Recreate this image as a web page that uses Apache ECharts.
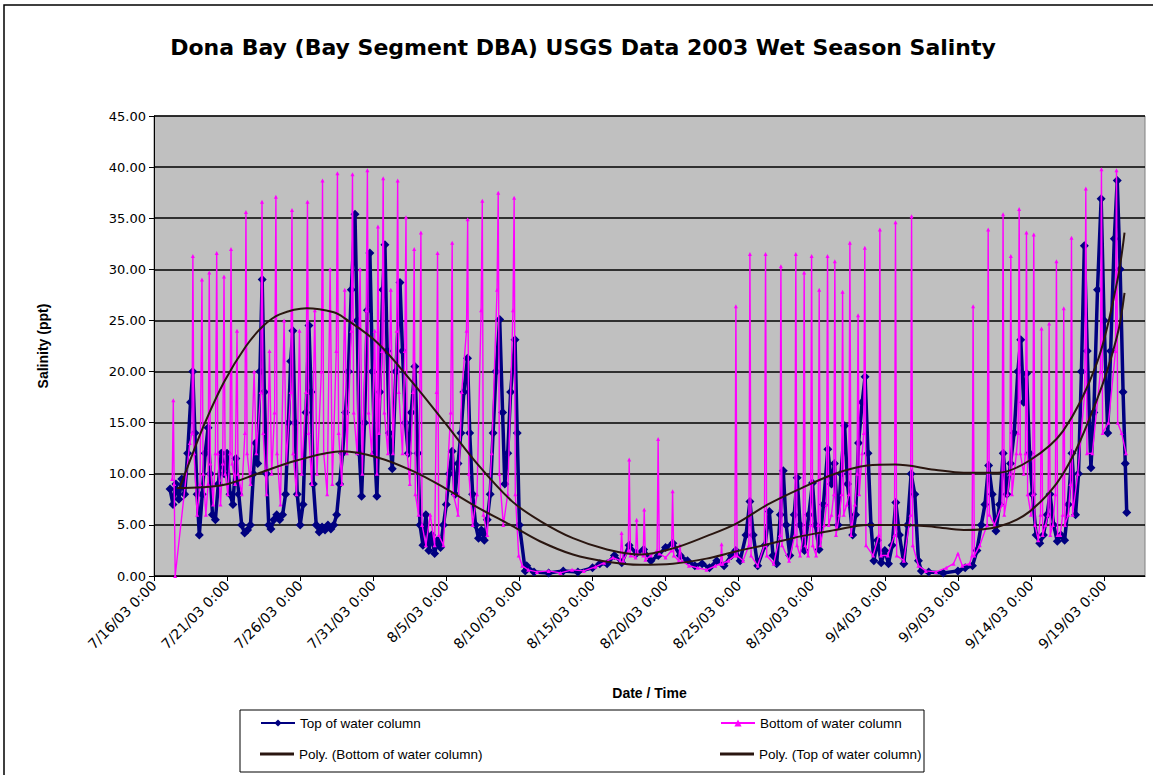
<!DOCTYPE html>
<html>
<head>
<meta charset="utf-8">
<script src="https://cdn.jsdelivr.net/npm/echarts@6/dist/echarts.min.js"></script>
<style>
html,body{margin:0;padding:0;background:#fff;}
#chart{width:1153px;height:775px;}
</style>
</head>
<body>
<div id="chart"></div>
<script>
// x values are days after 7/16/03 0:00
// Top of water column [day, salinity]
const topSeries = [
[1.1,8.5],[1.3,7.0],[1.5,9.0],[1.7,7.5],[1.9,9.5],
[2.1,8],[2.3,12],[2.5,17],[2.65,20],[2.8,14],[2.95,8],[3.1,4],
[3.3,8],[3.5,12],[3.7,14.5],[3.85,10],[4.0,6],[4.2,5.5],
[4.4,9],[4.6,12],[4.8,10],[5.0,12],[5.2,8],[5.4,7],
[5.6,11.5],[5.8,8],[6.0,5],[6.2,4.2],[6.4,4.5],[6.6,5],
[6.8,10],[6.95,13],[7.1,11],[7.25,20],[7.4,29],[7.55,18],
[7.7,10],[7.85,5],[8.0,4.6],[8.2,5.5],[8.4,6],[8.6,5.5],[8.8,6],
[9.0,8],[9.2,15],[9.35,21],[9.5,24],[9.65,15],[9.8,8],
[10.0,5],[10.2,7],[10.4,16],[10.6,24.5],[10.75,18],[10.9,9],
[11.1,5],[11.3,4.3],[11.5,4.8],[11.7,4.5],[11.9,5],[12.1,4.6],[12.3,5.0],
[12.5,6],[12.7,9],[12.9,12],[13.1,16],
[13.3,20],[13.5,28],[13.75,35.4],[13.9,25],[14.05,12],[14.2,7.8],
[14.4,15],[14.6,26],[14.77,31.6],[14.95,20],[15.1,12],[15.25,7.8],
[15.45,18],[15.65,28],[15.8,32.4],[15.95,22],[16.1,14],[16.3,10.5],
[16.55,20],[16.83,28.7],[17.0,22],[17.2,15],[17.4,12],[17.6,16],
[17.85,20.5],[18.05,12],[18.2,5],[18.4,3],[18.6,6],[18.8,2.5],[19.0,4],[19.2,2.2],[19.4,3.5],[19.6,2.8],[19.8,5],
[20.0,7],[20.2,10],[20.4,12.2],[20.6,8],
[20.8,11],[21.0,14],[21.2,18],[21.45,21.3],[21.6,14],[21.8,8],
[22.0,5],[22.2,3.7],[22.4,4.5],[22.6,3.5],[22.8,5.5],[23.0,8],
[23.2,14],[23.4,20],[23.65,25.1],[23.85,16],[24.0,9],
[24.2,12],[24.4,18],[24.7,23.1],[24.85,14],[25.0,5],
[25.4,0.5],[25.5,1.0],[26,0.4],[27,0.3],[28,0.5],[29,0.4],[30,0.8],[30.5,1.2],
[31,1.2],[31.5,2.0],[32,1.3],[32.5,3.0],[33,2.2],[33.5,2.6],[34,1.5],[34.5,2.0],[35,2.8],[35.5,3.2],
[36,2.0],[36.5,1.5],[37,1.0],[37.5,1.2],[38,0.8],[38.5,1.5],[39,1.0],[39.5,2.0],
[39.8,2.5],[40.1,1.5],[40.5,4],[40.77,7.3],[41.0,4],[41.3,1.0],
[41.8,3],[42.1,6.3],[42.35,2],[42.6,1.2],[42.85,6],[43.05,10.3],[43.25,5],[43.5,2],
[43.8,6],[44.0,9.6],[44.2,5],[44.5,2.5],[44.8,6],[45.05,9.1],[45.25,5],[45.5,2.6],
[45.8,7],[46.1,12.4],[46.35,9],[46.55,11],[46.8,5],[47.0,10],[47.25,14.7],[47.45,9],
[47.8,4],[48.0,6],[48.2,13],[48.45,17],[48.65,19.5],[48.85,12],
[49.05,5],[49.25,1.5],[49.5,3.5],[49.75,1.3],[50.0,2.5],[50.25,1.2],
[50.5,3],[50.75,7.2],[51.0,4],[51.3,1.2],[51.55,5],[51.8,10],[52.05,8],[52.3,1.5],[52.5,0.5],
[53,0.4],[54,0.3],[55,0.5],[55.5,0.8],[56,1.0],[56.3,2.5],[56.6,5],
[56.85,7],[57.1,10.8],[57.35,8],[57.6,4.4],[57.85,7],[58.1,12],[58.35,8],[58.6,11],
[58.85,14],[59.1,20],[59.3,23.1],[59.5,17],[59.7,19.8],[59.9,12],[60.1,8],
[60.35,4],[60.6,3.2],[60.85,4],[61.1,6],[61.3,8],[61.55,5],[61.8,3.4],[62.05,4],[62.3,3.5],
[62.55,7],[62.8,12],[63.05,6],[63.25,10],[63.45,20],[63.65,32.3],[63.85,22],
[64.1,10.6],[64.3,16],[64.55,28],[64.8,36.9],[65.0,25],[65.25,14],[65.45,22],
[65.7,33],[65.9,38.7],[66.1,30],[66.3,18],[66.45,11],[66.55,6.2]
];

// Bottom of water column [day, salinity]
const bottomSeries = [
[1.25,9.5],[1.32,17.2],[1.38,9.0],[1.45,0.0],[2.45,13.0],[2.6,14],[2.66,31.3],[2.74,12],[2.95,6],
[3.15,9],[3.28,29.0],[3.36,10],[3.55,6],[3.7,9],[3.78,29.7],[3.86,11],[4.05,7],
[4.2,12],[4.29,31.6],[4.37,12],[4.55,7],[4.7,11],[4.79,29.3],[4.87,10],[5.05,8],
[5.2,12],[5.27,32.0],[5.35,11],[5.55,9],[5.68,24],[5.75,10],[6.0,8],[6.22,14],[6.29,35.6],[6.37,12],
[6.6,9],[6.85,20],[7.0,12],[7.3,18],[7.39,36.6],[7.47,14],[7.7,8],[7.9,22],[8.05,10],
[8.25,16],[8.34,37.1],[8.42,12],[8.65,7],[8.9,25],[9.05,11],[9.35,18],[9.44,35.8],[9.52,12],
[9.75,8],[9.95,24],[10.1,10],[10.4,18],[10.5,36.6],[10.58,14],[10.8,9],[11.0,26],[11.15,10],
[11.45,20],[11.53,38.7],[11.61,12],[11.85,8],[12.05,30],[12.2,9],[12.47,22],[12.55,39.4],[12.63,14],
[12.85,9],[13.05,28],[13.2,12],
[13.5,24],[13.58,39.3],[13.66,16],[13.9,12],[14.1,30],[14.25,10],[14.52,26],[14.6,39.7],[14.68,16],
[14.9,12],[15.1,24],[15.25,10],[15.32,34.2],[15.4,14],[15.6,22],[15.68,38.9],[15.76,16],
[16.0,12],[16.2,28],[16.35,12],[16.6,24],[16.67,38.7],[16.75,18],[17.0,12],[17.16,22],[17.24,35.1],[17.32,12],
[17.5,9],[17.72,18],[17.8,32.0],[17.88,8],[18.1,6],[18.2,20],[18.26,33.6],[18.34,5],[18.6,3],[18.9,6],
[19.2,3],[19.33,18],[19.4,31.6],[19.48,4],[19.8,3],[20.3,16],[20.4,32.6],[20.48,8],[20.8,6],
[21.05,18],[21.38,24],[21.46,34.9],[21.54,10],[21.8,5],[22.1,8],[22.38,26],[22.46,36.7],[22.54,6],
[22.8,4],[23.1,12],[23.47,28],[23.55,37.5],[23.63,10],[23.9,5],[24.2,8],[24.56,26],[24.64,37.0],[24.72,8],
[24.95,2],[25.2,1.0],
[25.6,0.6],[26.2,0.4],[27,0.5],[27.8,0.3],[28.6,0.6],[29.4,0.5],[30.2,0.9],[30.8,1.3],[31.4,1.8],
[31.9,1.5],[31.99,4.2],[32.1,1.5],[32.45,2.5],[32.51,11.4],[32.6,2.0],[32.95,1.8],[33.02,5.5],[33.1,2.2],
[33.47,2.0],[33.54,6.5],[33.62,1.6],[34.0,2.0],[34.42,2.5],[34.49,13.4],[34.57,2.2],[35.0,1.8],
[35.41,2.5],[35.48,8.3],[35.56,2.0],[35.9,1.5],[35.98,3.0],[36.1,1.5],[36.6,1.0],[37.2,0.8],[37.8,0.6],
[38.4,1.0],[38.76,1.2],[38.83,3.1],[38.9,1.2],[39.3,1.5],[39.74,2.0],[39.81,26.4],[39.89,2.0],
[40.3,1.5],[40.7,3],[40.77,31.5],[40.85,2],[41.3,1.0],[41.76,3],[41.84,31.5],[41.92,2],[42.4,1.2],
[42.82,4],[42.89,30.3],[42.97,3],[43.45,1.5],[43.84,4],[43.91,31.5],[43.99,3],[44.2,2],[44.41,4],[44.48,29.7],[44.56,3],
[44.75,2],[44.92,5],[44.99,31.3],[45.07,3],[45.3,2],[45.44,5],[45.51,28.0],[45.59,3],[45.85,5],
[46.01,7],[46.08,31.3],[46.16,5],[46.35,6],[46.51,8],[46.58,30.8],[46.66,4],[46.9,6],[47.04,8],[47.11,27.8],[47.19,6],
[47.4,7],[47.54,8],[47.61,32.6],[47.69,4],[47.95,7],[48.1,10],[48.17,25.5],[48.25,8],[48.45,12],
[48.56,14],[48.63,32.1],[48.71,3],[49.2,2],[49.59,4],[49.66,33.9],[49.74,2],[50.2,2],[50.66,4],[50.73,34.6],[50.81,2],
[51.3,1.5],[51.76,6],[51.83,35.2],[51.91,3],[52.3,1.0],
[52.8,0.5],[53.5,0.4],[54.2,0.8],[54.7,1.2],[55.0,2.2],[55.3,1.0],[55.8,1.2],[55.97,2],[56.04,26.4],[56.12,2],
[56.5,3],[57.0,5],[57.07,33.9],[57.15,6],[57.5,5],[58.02,7],[58.09,35.4],[58.17,6],[58.4,8],[58.55,10],[58.62,31.3],[58.7,8],
[59.0,12],[59.12,14],[59.19,35.9],[59.27,12],[59.5,10],[59.62,12],[59.69,33.6],[59.77,8],[60.0,6],[60.12,8],[60.19,33.4],[60.27,5],
[60.5,3.5],[60.65,6],[60.72,24.2],[60.8,4],[61.0,5],[61.17,6],[61.24,24.7],[61.32,4],[61.5,5],[61.67,8],[61.74,30.8],[61.82,4],
[62.0,4],[62.17,6],[62.24,26.2],[62.32,5],[62.55,6],[62.7,9],[62.77,33.1],[62.85,6],[63.2,10],[63.68,18],[63.75,37.9],[63.83,12],
[64.2,12],[64.75,20],[64.82,39.8],[64.9,14],[65.3,15],[65.78,22],[65.85,39.7],[65.93,15],[66.2,14],[66.5,12]
];

// Polynomial trend lines [day, salinity]
const polyBottom = [
[1.78,8.7],[2.6,11.8],[3.49,15.0],[4.8,19.0],[6.3,22.5],[7.5,24.5],[8.6,25.6],[10.45,26.2],[12.3,25.8],[13.06,25.2],
[15.3,22.8],[17.65,19.0],[19.9,15.0],[22.16,10.9],[24.5,7.3],[26.4,5.4],[28.66,3.7],[30.99,2.6],[33.25,2.1],
[35.5,2.7],[37.8,3.9],[39.8,5.1],[42.0,7.0],[44.3,8.6],[46.6,10.0],[48.8,10.8],[50.7,10.9],[53.4,10.4],
[55.4,10.1],[57.7,10.1],[59.9,11.3],[62.2,14.2],[64.5,20.8],[65.88,28.7],[66.4,33.6]
];
const polyTop = [
[1.57,8.6],[4.72,8.9],[7.25,10.1],[9.76,11.3],[12.9,12.2],[15.3,11.6],[17.65,10.3],[19.9,8.6],[22.16,6.7],
[24.5,4.9],[26.4,3.4],[28.66,2.1],[30.99,1.4],[33.25,1.1],[35.5,1.2],[37.8,1.7],[39.8,2.4],[42.0,3.1],
[44.3,3.9],[46.6,4.5],[48.8,5.0],[51.2,5.0],[53.4,4.8],[55.4,4.5],[57.7,4.8],[59.9,6.3],[62.2,10.0],
[64.5,17.2],[65.88,23.4],[66.4,27.7]
];

const FONT = 'Liberation Sans, Arial, sans-serif';
const WIDE = 'DejaVu Sans, Verdana, sans-serif';
function dayLabel(v) {
  const d = new Date(2003, 6, 16 + Math.round(v));
  return (d.getMonth() + 1) + '/' + d.getDate() + '/03 0:00';
}
const legText = {fontFamily: FONT, fontSize: 13.5, color: '#000'};

const chart = echarts.init(document.getElementById('chart'), null, {renderer: 'svg'});
chart.setOption({
  animation: false,
  backgroundColor: '#ffffff',
  grid: {left: 154, right: 8, top: 116, bottom: 199, show: true, backgroundColor: '#c0c0c0', borderColor: '#808080', borderWidth: 1},
  graphic: [
    {type: 'rect', shape: {x: 4, y: 5, width: 1160, height: 800}, style: {fill: 'none', stroke: '#000', lineWidth: 1.5}, silent: true, z: -1},
    {type: 'text', x: 583, y: 47, style: {text: 'Dona Bay (Bay Segment DBA) USGS Data 2003 Wet Season Salinty', font: 'bold 22px ' + WIDE, fill: '#000', textAlign: 'center', textVerticalAlign: 'middle'}},
    {type: 'rect', shape: {x: 240, y: 710, width: 684, height: 62}, style: {fill: '#fff', stroke: '#000', lineWidth: 1}, z: 0}
  ],
  xAxis: {
    type: 'value', min: 0, max: 67.8, interval: 5,
    name: 'Date / Time', nameLocation: 'middle', nameGap: 110,
    nameTextStyle: {fontFamily: FONT, fontWeight: 'bold', fontSize: 14, color: '#000'},
    axisLine: {show: true, lineStyle: {color: '#000', width: 1}},
    axisTick: {show: true, length: 5, lineStyle: {color: '#000'}},
    axisLabel: {rotate: 45, formatter: dayLabel, fontFamily: WIDE, fontSize: 14, color: '#000', margin: 7, showMaxLabel: false},
    splitLine: {show: false}
  },
  yAxis: {
    type: 'value', min: 0, max: 45, interval: 5,
    name: 'Salinity (ppt)', nameLocation: 'middle', nameGap: 104, nameRotate: 90,
    nameTextStyle: {fontFamily: FONT, fontWeight: 'bold', fontSize: 14, color: '#000'},
    axisLine: {show: true, lineStyle: {color: '#000', width: 1}},
    axisTick: {show: true, length: 5, lineStyle: {color: '#000'}},
    axisLabel: {formatter: v => v.toFixed(2), fontFamily: WIDE, fontSize: 13, color: '#000', margin: 8},
    splitLine: {show: true, lineStyle: {color: '#000', width: 1.5}}
  },
  legend: [
    {left: 255, top: 711, itemWidth: 34, itemHeight: 9, itemGap: 4, textStyle: legText, data: ['Top of water column']},
    {left: 255, top: 742, itemWidth: 34, itemHeight: 3, textStyle: legText,
     data: [{name: 'Poly. (Bottom of water column)', icon: 'rect'}]},
    {left: 715, top: 711, itemWidth: 34, itemHeight: 9, textStyle: legText, data: ['Bottom of water column']},
    {left: 715, top: 742, itemWidth: 34, itemHeight: 3, textStyle: legText,
     data: [{name: 'Poly. (Top of water column)', icon: 'rect'}]}
  ],
  series: [
    {name: 'Top of water column', type: 'line', data: topSeries, symbol: 'diamond', symbolSize: 9,
     itemStyle: {color: '#000080'}, lineStyle: {color: '#000080', width: 3.5}, z: 2},
    {name: 'Bottom of water column', type: 'line', data: bottomSeries, symbol: 'triangle', symbolSize: 4,
     itemStyle: {color: '#ff00ff'}, lineStyle: {color: '#ff00ff', width: 1.4}, z: 3},
    {name: 'Poly. (Bottom of water column)', type: 'line', data: polyBottom, smooth: 0.35, symbol: 'none',
     itemStyle: {color: '#2a1610'}, lineStyle: {color: '#2a1610', width: 2}, z: 4},
    {name: 'Poly. (Top of water column)', type: 'line', data: polyTop, smooth: 0.35, symbol: 'none',
     itemStyle: {color: '#2a1610'}, lineStyle: {color: '#2a1610', width: 2}, z: 4}
  ]
});
</script>
</body>
</html>
